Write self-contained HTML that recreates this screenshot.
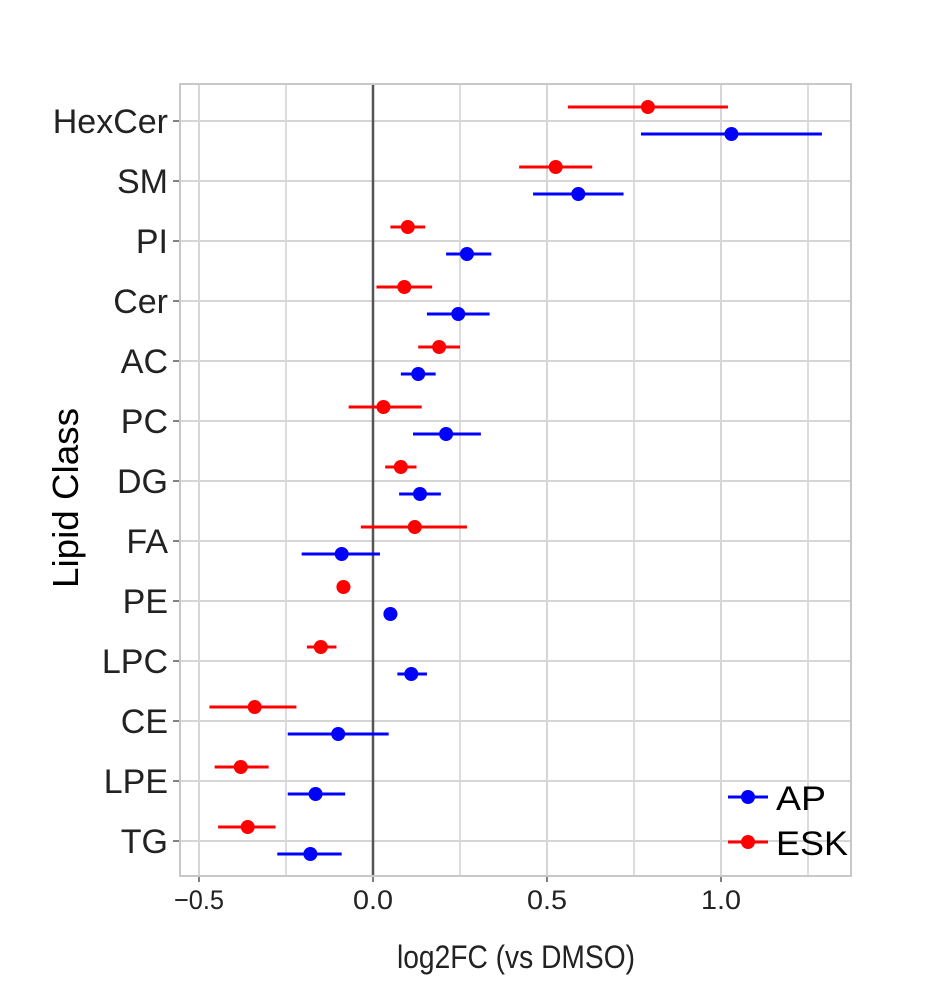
<!DOCTYPE html>
<html><head><meta charset="utf-8"><style>
body{margin:0;background:#fff}
svg{display:block;font-family:"Liberation Sans",Arial,sans-serif}
</style></head><body>
<svg id="chart" width="935" height="1000">
<rect x="0" y="0" width="935" height="1000" fill="#fff"/>
<g id="grid"></g>
<g id="marks"></g>
<g id="axes"></g>
<text x="78" y="498" transform="rotate(-90 78 498)" text-anchor="middle" font-size="36" textLength="180" lengthAdjust="spacingAndGlyphs" fill="#000">Lipid Class</text>
<text x="516" y="968" text-anchor="middle" font-size="32" textLength="238" lengthAdjust="spacingAndGlyphs" fill="#222">log2FC (vs DMSO)</text>
<g>
<g><line x1="728" y1="797" x2="768" y2="797" stroke="#0000ff" stroke-width="3"/><circle cx="748" cy="797" r="7" fill="#0000ff"/><text x="776" y="810" font-size="34" textLength="50" lengthAdjust="spacingAndGlyphs" fill="#000">AP</text></g>
<g><line x1="728" y1="842" x2="768" y2="842" stroke="#ff0000" stroke-width="3"/><circle cx="748" cy="842" r="7" fill="#ff0000"/><text x="776" y="855" font-size="34" textLength="72" lengthAdjust="spacingAndGlyphs" fill="#000">ESK</text></g>
</g>
</svg>
<script>
const categories=["HexCer","SM","PI","Cer","AC","PC","DG","FA","PE","LPC","CE","LPE","TG"];
const eskMean=[0.79,0.525,0.10,0.09,0.19,0.03,0.08,0.12,-0.085,-0.15,-0.34,-0.38,-0.36];
const eskLow=[0.56,0.42,0.05,0.01,0.13,-0.07,0.035,-0.035,-0.10,-0.19,-0.47,-0.455,-0.445];
const eskHigh=[1.02,0.63,0.15,0.17,0.25,0.14,0.125,0.27,-0.065,-0.105,-0.22,-0.30,-0.28];
const apMean=[1.03,0.59,0.27,0.245,0.13,0.21,0.135,-0.09,0.05,0.11,-0.10,-0.165,-0.18];
const apLow=[0.77,0.46,0.21,0.155,0.08,0.115,0.075,-0.205,0.037,0.07,-0.245,-0.245,-0.275];
const apHigh=[1.29,0.72,0.34,0.335,0.18,0.31,0.195,0.02,0.07,0.155,0.045,-0.08,-0.09];
const xTicks=[-0.5,0,0.5,1.0];
const xTickLabels=["\u22120.5","0.0","0.5","1.0"];
const xMinor=[-0.25,0.25,0.75,1.25];

const NS="http://www.w3.org/2000/svg";
const L=180,T=84,R=851,B=876;
const X=v=>373+v*348;
const Y=i=>121+i*60;
function mk(tag,attrs,parent){const e=document.createElementNS(NS,tag);for(const k in attrs)e.setAttribute(k,attrs[k]);parent.appendChild(e);return e;}
const grid=document.getElementById('grid'),marks=document.getElementById('marks'),axes=document.getElementById('axes');
mk('rect',{x:L,y:T,width:R-L,height:B-T,fill:'#fff'},grid);
xMinor.forEach(v=>{const g=mk('line',{x1:X(v),x2:X(v),y1:T,y2:B,stroke:'#dcdcdc','stroke-width':2},grid);

});
xTicks.forEach((v,i)=>{const g=mk('line',{x1:X(v),x2:X(v),y1:T,y2:B,stroke:'#d6d6d6','stroke-width':2},grid);


const tk=mk('line',{x1:X(v),x2:X(v),y1:B,y2:B+6,stroke:'#555','stroke-width':1.5},axes);


const t=mk('text',{x:X(v),y:B+33,'text-anchor':'middle','font-size':27,fill:'#222',textLength:i===0?50:40,lengthAdjust:'spacingAndGlyphs'},axes);t.textContent=xTickLabels[i];

});
categories.forEach((c,i)=>{const g=mk('line',{x1:L,x2:R,y1:Y(i),y2:Y(i),stroke:'#d6d6d6','stroke-width':2},grid);


const tk=mk('line',{x1:L-7,x2:L,y1:Y(i),y2:Y(i),stroke:'#555','stroke-width':1.5},axes);


const t=mk('text',{x:L-12,y:Y(i)+12,'text-anchor':'end','font-size':34,fill:'#222'},axes);t.textContent=c;

});
const zl=mk('line',{x1:X(0),x2:X(0),y1:T,y2:B,stroke:'#555','stroke-width':2.5},grid);


const fr=mk('rect',{x:L,y:T,width:R-L,height:B-T,fill:'none',stroke:'#c8c8c8','stroke-width':2},axes);


function series(mean,lo,hi,off,col,name){mean.forEach((m,i)=>{const y=Y(i)+off;
const ln=mk('line',{x1:X(lo[i]),x2:X(hi[i]),y1:y,y2:y,stroke:col,'stroke-width':3},marks);


const p=mk('circle',{cx:X(m),cy:y,r:7,fill:col},marks);

});}
series(eskMean,eskLow,eskHigh,-14,'#ff0000','esk');
series(apMean,apLow,apHigh,13,'#0000ff','ap');
</script>
</body></html>
